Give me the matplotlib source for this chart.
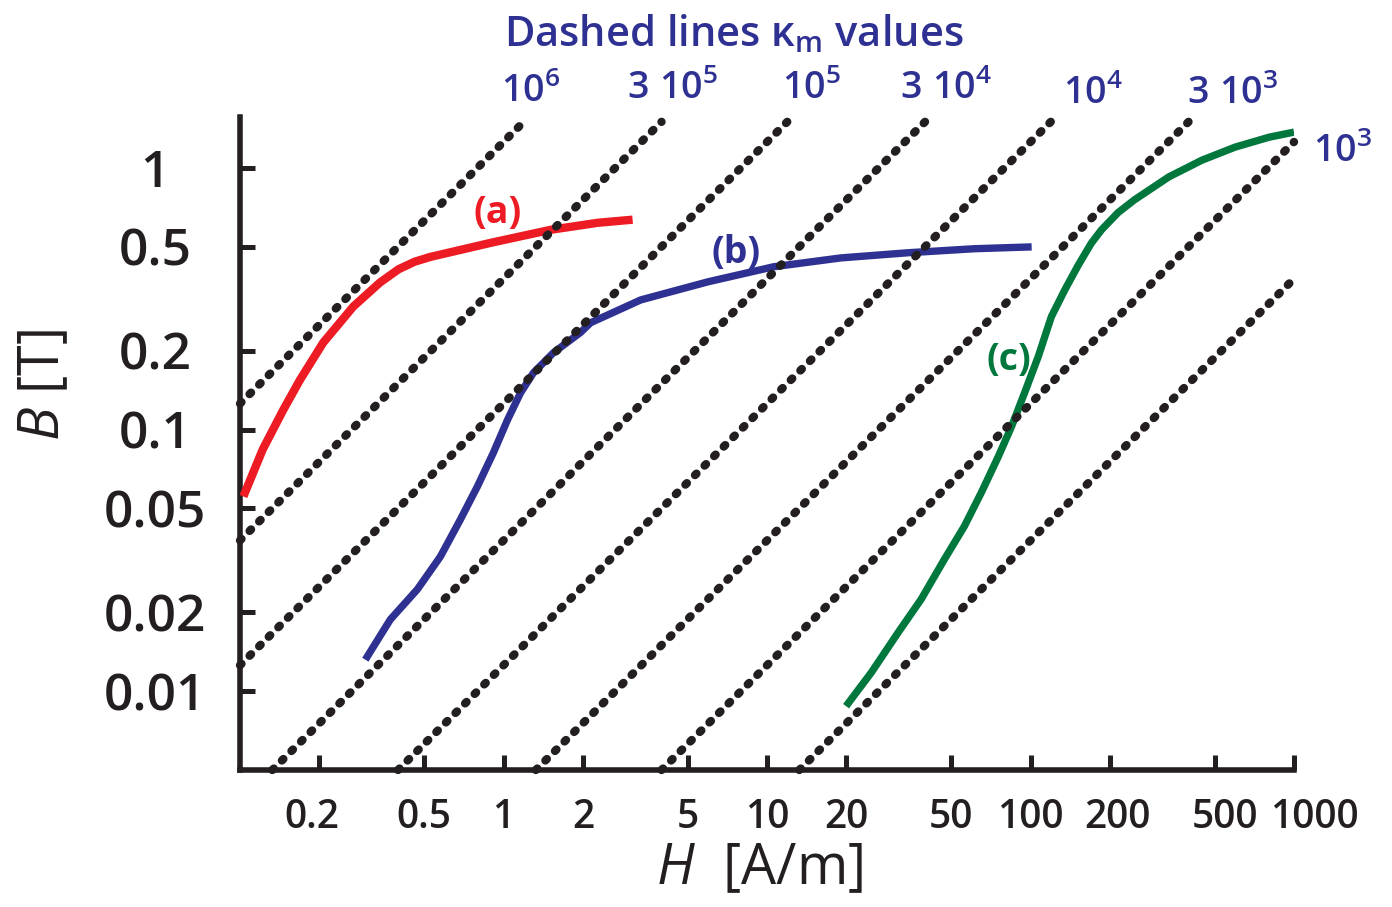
import numpy as np
import matplotlib
matplotlib.use("Agg")
import matplotlib.pyplot as plt
from matplotlib.ticker import NullLocator
from matplotlib.transforms import ScaledTranslation

# ---------------- data ----------------
x_ticks = [0.2, 0.5, 1, 2, 5, 10, 20, 50, 100, 200, 500, 1000]
x_tick_labels = ["0.2", "0.5", "1", "2", "5", "10", "20", "50", "100", "200", "500", "1000"]
y_ticks = [0.01, 0.02, 0.05, 0.1, 0.2, 0.5, 1]
y_tick_labels = ["0.01", "0.02", "0.05", "0.1", "0.2", "0.5", "1"]

kappa_values = [1e6, 3e5, 1e5, 3e4, 1e4, 3e3, 1e3, 3e2]
kappa_labels = [r"$\mathrm{10^{6}}$", r"$\mathrm{3\ 10^{5}}$", r"$\mathrm{10^{5}}$",
                r"$\mathrm{3\ 10^{4}}$", r"$\mathrm{10^{4}}$", r"$\mathrm{3\ 10^{3}}$",
                r"$\mathrm{10^{3}}$", None]

H_a = [0.103, 0.122, 0.146, 0.169, 0.207, 0.269, 0.340, 0.400, 0.460, 0.528, 0.893, 1.51, 2.28, 3.09]
B_a = [0.0555, 0.084, 0.119, 0.155, 0.215, 0.295, 0.365, 0.410, 0.438, 0.457, 0.517, 0.580, 0.617, 0.634]

H_b = [0.299, 0.372, 0.471, 0.576, 0.686, 0.796, 0.916, 1.036, 1.16, 1.30, 1.55, 1.96,
       2.14, 3.32, 5.97, 10.6, 19.1, 34.4, 61.2, 101]
B_b = [0.0132, 0.0188, 0.0245, 0.0327, 0.0453, 0.0606, 0.0817, 0.109, 0.138, 0.165, 0.197,
       0.235, 0.256, 0.313, 0.367, 0.419, 0.453, 0.474, 0.491, 0.499]

H_c = [19.95, 24.9, 31.5, 38.5, 47.1, 56.1, 65.1, 75.5, 84.7, 94.9, 107, 120, 135, 152,
       170, 186, 215, 248, 335, 447, 597, 804, 1000]
B_c = [0.00877, 0.0118, 0.0168, 0.0225, 0.0319, 0.0427, 0.0575, 0.0789, 0.1026, 0.138,
       0.190, 0.270, 0.342, 0.426, 0.515, 0.580, 0.675, 0.755, 0.924, 1.07, 1.20, 1.31, 1.37]

curve_names = ["(a)", "(b)", "(c)"]

# ---------------- style / layout ----------------
FONT = "Open Sans"
plt.rcParams["font.family"] = [FONT, "DejaVu Sans"]
plt.rcParams["font.weight"] = "semibold"
plt.rcParams["mathtext.fontset"] = "custom"
plt.rcParams["mathtext.rm"] = FONT + ":semibold"
plt.rcParams["mathtext.it"] = FONT + ":style=italic:weight=400"
plt.rcParams["mathtext.bf"] = FONT + ":bold"

BLACK = "#231F20"
RED = "#ED1C24"
BLUE = "#2E3192"
GREEN = "#00773C"

mu0 = 4 * np.pi * 1e-7
xlim = (0.1, 1000)
ylim = (0.005, 1.565)
B_line_top = 1.5

fig = plt.figure(figsize=(13.92, 9.07), dpi=100)
ax = fig.add_axes([240 / 1392, 137 / 907, 1054 / 1392, 653 / 907])
ax.set_xscale("log")
ax.set_yscale("log")
ax.set_xlim(*xlim)
ax.set_ylim(*ylim)

for s in ["top", "right"]:
    ax.spines[s].set_visible(False)
for s in ["left", "bottom"]:
    ax.spines[s].set_linewidth(4.0)
    ax.spines[s].set_color(BLACK)
    ax.spines[s].set_capstyle("projecting")

ax.set_xticks(x_ticks)
ax.set_xticklabels(x_tick_labels)
ax.set_yticks(y_ticks)
ax.set_yticklabels(y_tick_labels)
ax.xaxis.set_minor_locator(NullLocator())
ax.yaxis.set_minor_locator(NullLocator())
ax.tick_params(axis="both", direction="in", length=11, width=3.6, color=BLACK,
               labelcolor=BLACK)
ax.tick_params(axis="x", labelsize=28, pad=20)
ax.tick_params(axis="y", labelsize=37, pad=61)
for lab in ax.get_yticklabels():
    lab.set_horizontalalignment("center")
# small horizontal nudges of the crowded right-hand x labels (pixels)
x_label_nudge = {"0.2": -8, "200": 8, "500": 10, "1000": 20}
for lab, txt in zip(ax.get_xticklabels(), x_tick_labels):
    if txt in x_label_nudge:
        lab.set_transform(lab.get_transform() +
                          ScaledTranslation(x_label_nudge[txt] / 100, 0, fig.dpi_scale_trans))

# dotted kappa lines
label_offsets = [(7, 30), (11, 33), (24, 33), (21, 33), (42, 28), (44, 28), (48, -10), None]
for k, lab, off in zip(kappa_values, kappa_labels, label_offsets):
    h_lo = max(xlim[0], ylim[0] / (mu0 * k))
    h_hi = min(xlim[1], B_line_top / (mu0 * k))
    H = np.array([h_lo, h_hi])
    ax.plot(H, mu0 * k * H, color=BLACK, lw=6.0, linestyle=(0, (0.25, 1.37)),
            dash_capstyle="round", zorder=4, clip_on=False)
    if lab is not None:
        ax.annotate(lab, xy=(h_hi, mu0 * k * h_hi), xytext=off,
                    textcoords="offset pixels", ha="center", va="center",
                    fontsize=27, color=BLUE, annotation_clip=False)

# B-H curves
ax.plot(H_a, B_a, color=RED, lw=6.0, solid_capstyle="butt", solid_joinstyle="round", zorder=3)
ax.plot(H_b, B_b, color=BLUE, lw=5.3, solid_capstyle="butt", solid_joinstyle="round", zorder=3)
ax.plot(H_c, B_c, color=GREEN, lw=5.3, solid_capstyle="butt", solid_joinstyle="round", zorder=3)

label_pos = [(0.949, 0.673), (7.62, 0.474), (82.5, 0.185)]
for name, (hx, by), col in zip(curve_names, label_pos, [RED, BLUE, GREEN]):
    ax.text(hx, by, name, color=col, fontsize=27, fontweight="bold",
            ha="center", va="center", zorder=5)

# title and axis labels
fig.text(734 / 1392, 1 - 35 / 907, r"Dashed lines κ$_\mathrm{m}$ values", color=BLUE,
         fontsize=30, ha="center", va="center")
ax.set_xlabel(r"$H$  [A/m]", fontsize=40, color=BLACK, fontweight="normal")
ax.xaxis.set_label_coords(0.493, -0.153)
ax.xaxis.label.set_verticalalignment("center")
ax.set_ylabel(r"$B$ [T]", fontsize=40, color=BLACK, fontweight="normal")
ax.yaxis.set_label_coords(-0.185, 0.59)
ax.yaxis.label.set_verticalalignment("center")

fig.savefig("out.png", dpi=100)
